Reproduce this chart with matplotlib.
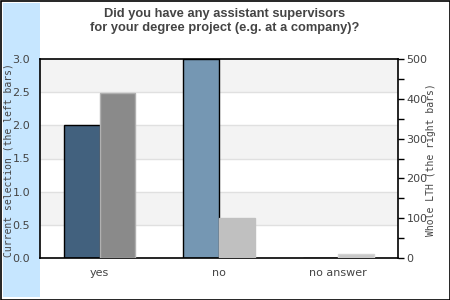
import matplotlib
matplotlib.use("Agg")
import matplotlib.pyplot as plt
from matplotlib.patches import Rectangle
import numpy as np

categories = ["yes", "no", "no answer"]
current_selection = [2, 3, 0]
whole_lth = [415, 100, 10]
left_colors = ["#42617e", "#7597b3", "#7597b3"]
right_colors = ["#8a8a8a", "#c0c0c0", "#c8c8c8"]
right_edges = ["#b0b0b0", "#c0c0c0", "#d4d4d4"]
left_ticks = [0.0, 0.5, 1.0, 1.5, 2.0, 2.5, 3.0]
right_major = [0, 100, 200, 300, 400, 500]
right_minor = [50, 150, 250, 350, 450]

fig = plt.figure(figsize=(4.5, 3), dpi=100)
fig.patch.set_facecolor("white")
fig.patches.append(Rectangle((3/450, 3/300), 37/450, 294/300, transform=fig.transFigure,
                             facecolor="#c6e6ff", edgecolor="none", zorder=-5))
fig.patches.append(Rectangle((0.5/450, 0.5/300), 449/450, 299/300, transform=fig.transFigure,
                             facecolor="none", edgecolor="black", linewidth=1.2, zorder=5))

ax = fig.add_axes([40/450, 42/300, 358/450, 199/300])
ax.set_facecolor("white")
x = np.arange(len(categories))
w = 0.3
ax.set_xlim(-0.5, 2.5)
ax.set_ylim(0, 3)
for i in range(6):
    if i % 2 == 1:
        ax.axhspan(i*0.5, (i+1)*0.5, color="#f3f3f3", zorder=0, linewidth=0)
for t in left_ticks[1:-1]:
    ax.axhline(t, color="#e0e0e0", linewidth=1, zorder=0.5)

ax.bar(x - w/2, current_selection, width=w, color=left_colors, edgecolor="black",
       linewidth=1, zorder=2)
ax.set_yticks(left_ticks)
ax.set_yticklabels([f"{v:.1f}" for v in left_ticks])
ax.tick_params(axis="y", length=0, pad=7, labelsize=8, labelcolor="#444444")
ax.set_xticks(x)
ax.set_xticklabels(categories)
ax.tick_params(axis="x", length=0, pad=7, labelsize=8, labelcolor="#444444")
for s in ax.spines.values():
    s.set_color("black")
    s.set_linewidth(1.2)

ax2 = ax.twinx()
ax2.set_ylim(0, 500)
ax2.bar(x + w/2, whole_lth, width=w, color=right_colors, edgecolor=right_edges,
        linewidth=1, zorder=2)
ax2.set_yticks(right_major)
ax2.set_yticks(right_minor, minor=True)
ax2.tick_params(axis="y", which="major", length=4, width=1, direction="out", pad=2,
                labelsize=8, labelcolor="#444444", color="black")
ax2.tick_params(axis="y", which="minor", length=4, width=1, direction="out", color="black")
for s in ax2.spines.values():
    s.set_visible(False)

fig.text(9/450, 140/300, "Current selection (the left bars)", rotation=90,
         family="DejaVu Sans Mono", fontsize=7, color="#444444", ha="center", va="center")
fig.text(431/450, 140/300, "Whole LTH (the right bars)", rotation=90,
         family="DejaVu Sans Mono", fontsize=7, color="#444444", ha="center", va="center")
fig.text(225/450, 279/300, "Did you have any assistant supervisors\nfor your degree project (e.g. at a company)?",
         family="Liberation Sans", fontweight="bold", fontsize=9.3, color="#444444",
         ha="center", va="center", linespacing=1.2)

fig.savefig("out.png", dpi=100)
